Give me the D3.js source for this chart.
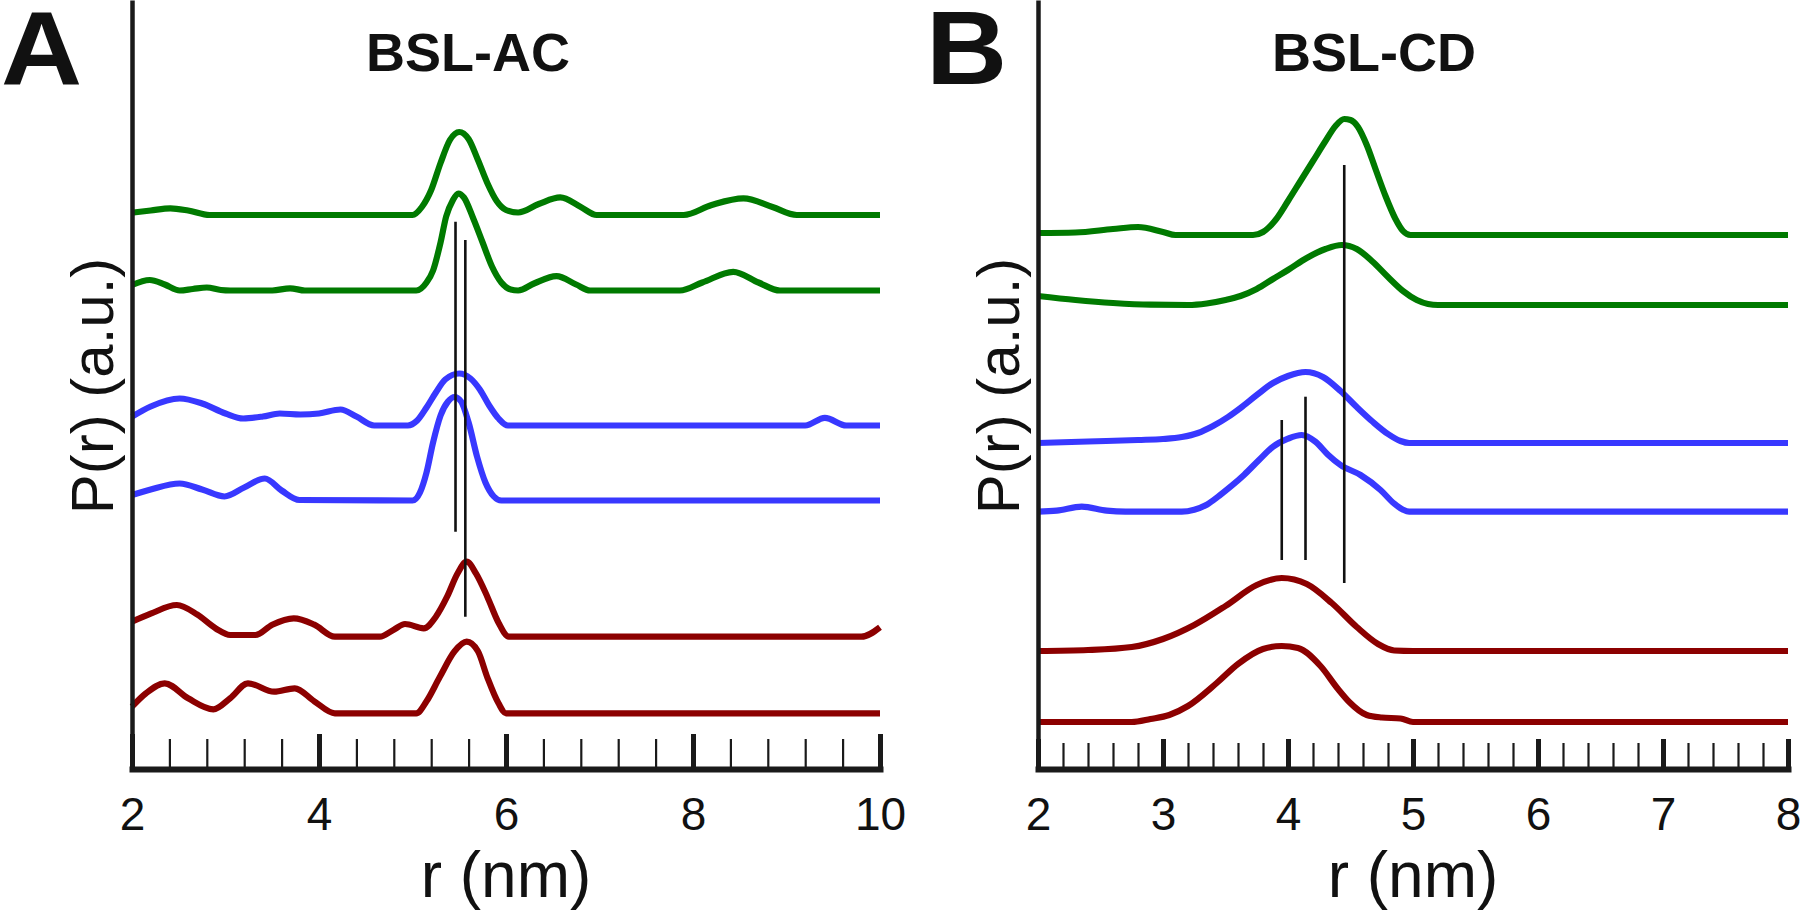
<!DOCTYPE html>
<html>
<head>
<meta charset="utf-8">
<script src="https://cdn.jsdelivr.net/npm/d3@7"></script>
<style>
  html, body { margin: 0; padding: 0; background: #ffffff; }
  svg { display: block; }
  text { font-family: "Liberation Sans", Arial, Helvetica, sans-serif; fill: #111; }
</style>
</head>
<body>
<svg id="chart" width="1800" height="915"></svg>
<script>
// ---------------- DATA ----------------
// Panel A (BSL-AC): r (nm) vs P(r) above each trace baseline (a.u.)
const acXTicks = [2, 4, 6, 8, 10];
const acOffsets = [55.4, 47.85, 34.35, 26.85, 13.23, 5.57];
const acColors = ["green", "green", "blue", "blue", "red", "red"];
const acGreen1 = [[2.0,0.23],[2.2,0.45],[2.41,0.67],[2.6,0.45],[2.83,0],[5.0,0],[5.1,0.8],[5.2,2.5],[5.3,5.2],[5.4,7.5],[5.5,8.3],[5.6,7.6],[5.7,5.5],[5.8,3.2],[5.9,1.4],[6.0,0.5],[6.13,0.25],[6.35,1.1],[6.58,1.76],[6.8,0.8],[6.97,0],[7.9,0],[8.2,1.0],[8.54,1.66],[8.85,0.8],[9.11,0],[10,0]];
const acGreen2 = [[2.0,0.55],[2.19,1.05],[2.35,0.6],[2.51,0],[2.65,0.15],[2.8,0.3],[2.95,0.05],[3.05,0],[3.5,0],[3.69,0.22],[3.85,0],[5.04,0],[5.15,0.8],[5.22,2.0],[5.3,4.8],[5.36,7.4],[5.43,9.0],[5.49,9.7],[5.55,9.3],[5.65,7.2],[5.75,4.8],[5.85,2.4],[5.95,0.8],[6.05,0.1],[6.13,0],[6.3,0.7],[6.54,1.43],[6.75,0.6],[6.9,0],[7.86,0],[8.1,0.8],[8.43,1.86],[8.7,0.8],[8.93,0],[10,0]];
const acBlue1 = [[2.0,0.88],[2.2,1.9],[2.51,2.7],[2.75,2.2],[3.0,1.2],[3.19,0.7],[3.4,0.9],[3.58,1.2],[3.8,1.1],[4.0,1.2],[4.23,1.6],[4.4,0.9],[4.59,0],[4.95,0],[5.05,0.5],[5.15,1.8],[5.25,3.3],[5.35,4.6],[5.5,5.2],[5.62,4.7],[5.72,3.6],[5.82,2.0],[5.92,0.7],[6.02,0],[9.2,0],[9.41,0.77],[9.64,0],[10,0]];
const acBlue2 = [[2.0,0.55],[2.2,1.1],[2.51,1.7],[2.75,1.1],[2.99,0.4],[3.2,1.3],[3.42,2.2],[3.6,1.0],[3.79,0.05],[5.0,0],[5.08,0.8],[5.15,2.8],[5.22,5.8],[5.3,8.5],[5.38,9.9],[5.45,10.35],[5.52,9.9],[5.6,7.8],[5.69,4.4],[5.78,1.8],[5.87,0.4],[5.95,0],[10,0]];
const acRed1 = [[2.0,1.5],[2.2,2.3],[2.48,3.17],[2.7,2.2],[2.9,0.8],[3.05,0.17],[3.32,0.17],[3.5,1.2],[3.73,1.84],[3.95,1.2],[4.17,0],[4.65,0],[4.8,0.7],[4.92,1.27],[5.12,0.84],[5.25,2.0],[5.37,4.0],[5.48,6.3],[5.58,7.5],[5.68,6.3],[5.8,4.0],[5.92,1.4],[6.03,0],[9.8,0],[10,0.95]];
const acRed2 = [[2.0,0.66],[2.15,2.0],[2.35,3.0],[2.6,1.5],[2.87,0.4],[3.05,1.5],[3.24,3.0],[3.52,2.16],[3.74,2.5],[3.95,1.2],[4.17,0],[5.04,0],[5.15,1.2],[5.29,3.6],[5.45,6.2],[5.58,7.16],[5.7,6.2],[5.8,3.6],[5.92,1.0],[6.0,0],[10,0]];
// vertical marker lines: [r, P bottom, P top]
const acMarkers = [[5.46, 23.73, 54.73], [5.565, 15.23, 52.9]];

// Panel B (BSL-CD)
const cdXTicks = [2, 3, 4, 5, 6, 7, 8];
const cdOffsets = [53.4, 46.4, 32.6, 25.73, 11.8, 4.7];
const cdColors = ["green", "green", "blue", "blue", "red", "red"];
const cdGreen1 = [[2.0,0.2],[2.3,0.25],[2.6,0.6],[2.8,0.8],[3.0,0.3],[3.1,0],[3.72,0],[3.8,0.3],[3.9,1.5],[4.0,3.4],[4.1,5.4],[4.2,7.4],[4.3,9.4],[4.38,10.9],[4.45,11.6],[4.5,11.5],[4.56,10.8],[4.63,9.0],[4.7,6.6],[4.78,3.9],[4.86,1.6],[4.92,0.4],[4.98,0],[8,0]];
const cdGreen2 = [[2.0,0.9],[2.3,0.5],[2.6,0.2],[2.9,0.03],[3.2,0],[3.35,0.15],[3.5,0.5],[3.62,0.9],[3.75,1.6],[3.88,2.6],[4.0,3.5],[4.15,4.7],[4.3,5.6],[4.43,6.0],[4.55,5.6],[4.68,4.3],[4.8,2.8],[4.92,1.4],[5.03,0.5],[5.12,0.1],[5.2,0],[8,0]];
const cdBlue1 = [[2.0,0],[2.4,0.15],[2.8,0.3],[3.0,0.4],[3.15,0.6],[3.28,1.0],[3.4,1.7],[3.52,2.6],[3.62,3.5],[3.75,4.8],[3.88,6.0],[4.0,6.7],[4.14,7.1],[4.28,6.6],[4.42,5.2],[4.55,3.6],[4.68,2.1],[4.8,0.9],[4.9,0.2],[4.97,0],[8,0]];
const cdBlue2 = [[2.0,0],[2.15,0.1],[2.35,0.5],[2.55,0.1],[2.7,0],[3.15,0],[3.25,0.2],[3.35,0.7],[3.45,1.6],[3.55,2.6],[3.65,3.7],[3.77,5.2],[3.88,6.5],[4.0,7.3],[4.11,7.67],[4.22,7.0],[4.32,5.7],[4.42,4.67],[4.58,3.67],[4.74,2.17],[4.85,0.8],[4.92,0.2],[4.97,0],[8,0]];
const cdRed1 = [[2.0,0],[2.4,0.1],[2.75,0.4],[3.0,1.2],[3.25,2.6],[3.5,4.5],[3.75,6.6],[3.95,7.3],[4.15,6.7],[4.35,4.8],[4.55,2.4],[4.72,0.7],[4.85,0.05],[5.0,0],[8,0]];
const cdRed2 = [[2.0,0],[2.75,0],[2.9,0.3],[3.05,0.7],[3.2,1.6],[3.43,3.9],[3.6,5.8],[3.8,7.3],[3.95,7.6],[4.08,7.4],[4.26,5.6],[4.4,3.3],[4.49,2.0],[4.63,0.7],[4.75,0.45],[4.9,0.35],[5.0,0],[8,0]];
const cdMarkers = [[3.95, 20.9, 34.9], [4.14, 20.9, 37.23], [4.45, 18.6, 60.4]];

const colorMap = { green: "#007a00", blue: "#3838ff", red: "#8c0000" };

// ---------------- DRAW ----------------
const svg = d3.select("#chart");
svg.append("rect").attr("width", 1800).attr("height", 915).attr("fill", "#fff");

const yBottom = 769;
const panels = [
  { letter: "A", title: "BSL-AC", xDomain: [2, 10], xRange: [132, 880], ticks: acXTicks, minorStep: 0.4,
    traces: [acGreen1, acGreen2, acBlue1, acBlue2, acRed1, acRed2], offsets: acOffsets, colors: acColors,
    markers: acMarkers, letterX: 1, minorLen: 30, majorLen: 35 },
  { letter: "B", title: "BSL-CD", xDomain: [2, 8], xRange: [1038, 1788], ticks: cdXTicks, minorStep: 0.2,
    traces: [cdGreen1, cdGreen2, cdBlue1, cdBlue2, cdRed1, cdRed2], offsets: cdOffsets, colors: cdColors,
    markers: cdMarkers, letterX: 926, minorLen: 26, majorLen: 30 }
];

panels.forEach(p => {
  const x = d3.scaleLinear().domain(p.xDomain).range(p.xRange);
  const y = d3.scaleLinear().domain([0, 76.9]).range([yBottom, 0]);
  const g = svg.append("g");

  // traces
  const line = d3.line().x(d => x(d[0])).y(d => y(d[1])).curve(d3.curveMonotoneX);
  p.traces.forEach((tr, i) => {
    const off = p.offsets[i];
    g.append("path")
      .datum(tr.map(d => [d[0], d[1] + off]))
      .attr("d", line)
      .attr("fill", "none")
      .attr("stroke", colorMap[p.colors[i]])
      .attr("stroke-width", 6.2)
      .attr("stroke-linejoin", "round")
      .attr("stroke-linecap", "butt");
  });

  // marker lines
  g.selectAll("line.marker").data(p.markers).join("line")
    .attr("class", "marker")
    .attr("x1", d => x(d[0])).attr("x2", d => x(d[0]))
    .attr("y1", d => y(d[1])).attr("y2", d => y(d[2]))
    .attr("stroke", "#111").attr("stroke-width", 2.6);

  // x axis: minor ticks
  const minor = d3.range(p.xDomain[0], p.xDomain[1] + 1e-9, p.minorStep)
    .filter(v => !p.ticks.some(t => Math.abs(t - v) < 1e-6));
  const axMinor = g.append("g").attr("transform", `translate(0,${yBottom})`)
    .call(d3.axisBottom(x).tickValues(minor).tickSize(-p.minorLen).tickSizeOuter(0).tickFormat(""));
  axMinor.select(".domain").remove();
  axMinor.selectAll(".tick line").attr("stroke", "#1a1a1a").attr("stroke-width", 2.2);

  const axMajor = g.append("g").attr("transform", `translate(0,${yBottom})`)
    .call(d3.axisBottom(x).tickValues(p.ticks).tickSize(-p.majorLen).tickSizeOuter(0)
      .tickPadding(28).tickFormat(d3.format("d")));
  axMajor.select(".domain").attr("stroke", "#1a1a1a").attr("stroke-width", 6).attr("stroke-linecap", "square");
  axMajor.selectAll(".tick line").attr("stroke", "#1a1a1a").attr("stroke-width", 5);
  axMajor.selectAll(".tick text").attr("font-size", 46).attr("fill", "#111")
    .style("font-family", "'Liberation Sans', Arial, sans-serif");

  // y axis
  const axY = g.append("g").attr("transform", `translate(${p.xRange[0]},0)`)
    .call(d3.axisLeft(y).tickValues([]).tickSizeOuter(0));
  axY.select(".domain").attr("stroke", "#1a1a1a").attr("stroke-width", 4.5);

  // labels
  g.append("text").attr("x", (p.xRange[0] + p.xRange[1]) / 2).attr("y", 897)
    .attr("text-anchor", "middle").attr("font-size", 64).text("r (nm)");
  g.append("text").attr("transform", `translate(${p.xRange[0] - 19},386) rotate(-90)`)
    .attr("text-anchor", "middle").attr("font-size", 60).text("P(r) (a.u.)");
  g.append("text").attr("x", p.xRange[0] + 336).attr("y", 71)
    .attr("text-anchor", "middle").attr("font-size", 54).attr("font-weight", "bold").text(p.title);
  g.append("text").attr("transform", `translate(${p.letterX},84) scale(1.08,1)`)
    .attr("font-size", 104).attr("font-weight", "bold").text(p.letter);
});
</script>
</body>
</html>
